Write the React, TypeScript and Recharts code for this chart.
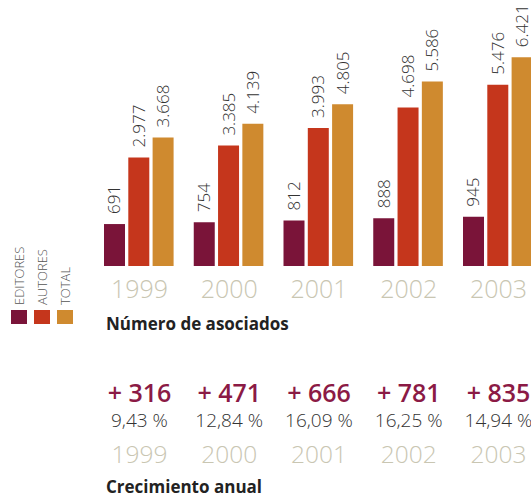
import { BarChart, Bar, XAxis, YAxis, LabelList } from "recharts";

const years = ["1999", "2000", "2001", "2002", "2003"];
const editores = [691, 754, 812, 888, 945];
const autores = [2977, 3385, 3993, 4698, 5476];
const total = [3668, 4139, 4805, 5586, 6421];
const crecimiento = [316, 471, 666, 781, 835];
const crecimientoPct = [9.43, 12.84, 16.09, 16.25, 14.94];

const AXIS_MIN = -750;
const AXIS_MAX = 7700;

const data = years.map((year, i) => ({
  year,
  editores: editores[i],
  autores: autores[i],
  total: total[i],
}));

const COLORS = {
  editores: "#7a1439",
  autores: "#c5361c",
  total: "#cf8a2f",
};

const FONT = "'Open Sans', Lato, sans-serif";
const YEAR_COLOR = "#c9c6b2";

const fmt = (v: number) => String(v).replace(/\B(?=(\d{3})+(?!\d))/g, ".");

const BarValue = (props: any) => {
  const { x, y, width, value } = props;
  const v = Array.isArray(value) ? value[1] : value;
  const cx = Number(x) + Number(width) / 2 + 6;
  const ty = Number(y) - 10;
  return (
    <text
      x={cx}
      y={ty}
      transform={`rotate(-90 ${cx} ${ty})`}
      textAnchor="start"
      fontFamily={FONT}
      fontWeight={300}
      fontSize={17}
      fill="#333"
    >
      {fmt(v)}
    </text>
  );
};

const YearTick = (props: any) => {
  const { x, y, index } = props;
  return (
    <g>
      <text x={x} y={y + 32} textAnchor="middle" fontFamily={FONT} fontWeight={300} fontSize={25} fill={YEAR_COLOR}>
        {years[index]}
      </text>
      <text x={x} y={y + 136} textAnchor="middle" fontFamily={FONT} fontWeight={600} fontSize={25} fill="#8b1a45">
        {`+ ${crecimiento[index]}`}
      </text>
      <text x={x} y={y + 161} textAnchor="middle" fontFamily={FONT} fontWeight={300} fontSize={19} fill="#333">
        {`${crecimientoPct[index].toFixed(2).replace(".", ",")} %`}
      </text>
      <text x={x} y={y + 197} textAnchor="middle" fontFamily={FONT} fontWeight={300} fontSize={24.5} fill={YEAR_COLOR}>
        {years[index]}
      </text>
    </g>
  );
};

const legendItems = [
  { name: "EDITORES", color: COLORS.editores, x: 11 },
  { name: "AUTORES", color: COLORS.autores, x: 34 },
  { name: "TOTAL", color: COLORS.total, x: 57 },
];

export default function App() {
  return (
    <div style={{ position: "absolute", left: 0, top: 0, width: 531, height: 498, overflow: "hidden", background: "#fff" }}>
      <BarChart
        width={560}
        height={498}
        data={data}
        margin={{ top: 20, left: 94.6, right: 16.65, bottom: 0 }}
        barCategoryGap={9.4}
        barGap={3.3}
      >
        <XAxis
          dataKey="year"
          height={232}
          axisLine={false}
          tickLine={false}
          tickSize={0}
          tickMargin={0}
          interval={0}
          tick={<YearTick />}
        />
        <YAxis hide type="number" domain={[AXIS_MIN, AXIS_MAX]} allowDataOverflow />
        <Bar dataKey={(d: any) => [AXIS_MIN, d.editores]} fill={COLORS.editores} isAnimationActive={false}>
          <LabelList dataKey="editores" content={<BarValue />} />
        </Bar>
        <Bar dataKey={(d: any) => [AXIS_MIN, d.autores]} fill={COLORS.autores} isAnimationActive={false}>
          <LabelList dataKey="autores" content={<BarValue />} />
        </Bar>
        <Bar dataKey={(d: any) => [AXIS_MIN, d.total]} fill={COLORS.total} isAnimationActive={false}>
          <LabelList dataKey="total" content={<BarValue />} />
        </Bar>
      </BarChart>
      <svg width={531} height={498} style={{ position: "absolute", left: 0, top: 0, pointerEvents: "none" }}>
        {legendItems.map((it) => (
          <g key={it.name}>
            <rect x={it.x} y={310} width={16} height={14} fill={it.color} />
            <text
              x={it.x + 13}
              y={305}
              transform={`rotate(-90 ${it.x + 13} 305)`}
              fontFamily={FONT}
              fontWeight={300}
              fontSize={13}
              fill="#555"
            >
              {it.name}
            </text>
          </g>
        ))}
        <text x={106} y={330} fontFamily={FONT} fontWeight={700} fontSize={17} fill="#222">
          Número de asociados
        </text>
        <text x={106} y={493} fontFamily={FONT} fontWeight={700} fontSize={17} fill="#222">
          Crecimiento anual
        </text>
      </svg>
    </div>
  );
}
